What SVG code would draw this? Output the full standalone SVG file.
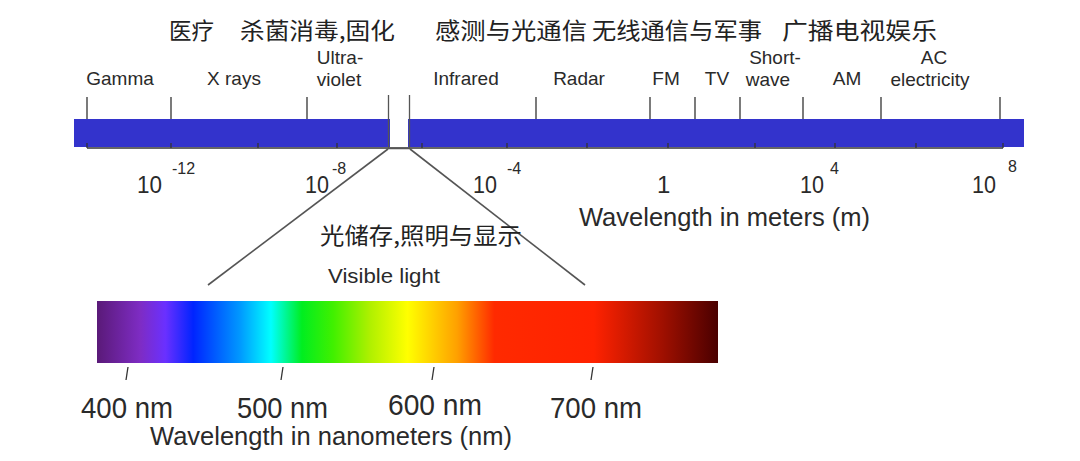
<svg xmlns="http://www.w3.org/2000/svg" width="1080" height="461" viewBox="0 0 1080 461">
<defs>
<linearGradient id="spec" x1="0" y1="0" x2="1" y2="0">
<stop offset="0" stop-color="#5a1a78"/>
<stop offset="0.07" stop-color="#7e2cc4"/>
<stop offset="0.11" stop-color="#6a30ff"/>
<stop offset="0.155" stop-color="#0024ff"/>
<stop offset="0.23" stop-color="#0098ff"/>
<stop offset="0.28" stop-color="#00ffff"/>
<stop offset="0.33" stop-color="#00ee20"/>
<stop offset="0.38" stop-color="#40f000"/>
<stop offset="0.44" stop-color="#b0f000"/>
<stop offset="0.5" stop-color="#ffff00"/>
<stop offset="0.58" stop-color="#ffa000"/>
<stop offset="0.64" stop-color="#ff2a00"/>
<stop offset="0.8" stop-color="#ff2200"/>
<stop offset="0.91" stop-color="#a01000"/>
<stop offset="1" stop-color="#4a0000"/>
</linearGradient>
<style>
.t{font-family:"Liberation Sans",Arial,sans-serif;fill:#2a2a2a}
.lb{font-size:19px;text-anchor:middle}
.num{font-size:24px}
.sup{font-size:16px}
.nm{font-size:30px}
.cn{font-family:"Noto Sans CJK SC","Liberation Sans",sans-serif;fill:#222;font-size:23px}
.tick{stroke:#333;stroke-width:1.3}
.bar{fill:#3333cc}
.fan{stroke:#555;stroke-width:1.6;fill:none}
</style>
</defs>
<rect width="1080" height="461" fill="#fff"/>

<g id="chinese-uses">
<text class="cn" x="169" y="39" textLength="45" lengthAdjust="spacingAndGlyphs">医疗</text>
<text class="cn" x="240" y="39" textLength="155" lengthAdjust="spacingAndGlyphs">杀菌消毒,固化</text>
<text class="cn" x="435" y="39" textLength="152" lengthAdjust="spacingAndGlyphs">感测与光通信</text>
<text class="cn" x="592" y="39" textLength="170" lengthAdjust="spacingAndGlyphs">无线通信与军事</text>
<text class="cn" x="782" y="39" textLength="155" lengthAdjust="spacingAndGlyphs">广播电视娱乐</text>
</g>

<g id="band-labels">
<text class="t lb" x="120" y="85">Gamma</text>
<text class="t lb" x="234" y="85">X rays</text>
<text class="t lb" x="340" y="64">Ultra-</text>
<text class="t lb" x="339" y="86">violet</text>
<text class="t lb" x="466" y="85">Infrared</text>
<text class="t lb" x="579" y="85">Radar</text>
<text class="t lb" x="666" y="85">FM</text>
<text class="t lb" x="717" y="85">TV</text>
<text class="t lb" x="775" y="64">Short-</text>
<text class="t lb" x="768" y="86">wave</text>
<text class="t lb" x="847" y="85">AM</text>
<text class="t lb" x="934" y="64">AC</text>
<text class="t lb" x="930" y="86">electricity</text>
</g>

<g id="em-bar">
<rect class="bar" x="74" y="119" width="316" height="28"/>
<rect class="bar" x="408" y="119" width="616" height="28"/>
<line class="tick" x1="87" y1="148" x2="1003" y2="148"/>
<g class="tick">
<line x1="87" y1="97" x2="87" y2="119"/>
<line x1="171" y1="97" x2="171" y2="119"/>
<line x1="307" y1="97" x2="307" y2="119"/>
<line x1="536" y1="97" x2="536" y2="119"/>
<line x1="650" y1="97" x2="650" y2="119"/>
<line x1="695" y1="97" x2="695" y2="119"/>
<line x1="740" y1="97" x2="740" y2="119"/>
<line x1="803" y1="97" x2="803" y2="119"/>
<line x1="881" y1="97" x2="881" y2="119"/>
<line x1="1000" y1="97" x2="1000" y2="119"/>
<line x1="87" y1="143" x2="87" y2="148"/>
<line x1="171" y1="143" x2="171" y2="148"/>
<line x1="258" y1="143" x2="258" y2="148"/>
<line x1="337" y1="143" x2="337" y2="148"/>
<line x1="422" y1="143" x2="422" y2="148"/>
<line x1="507" y1="143" x2="507" y2="148"/>
<line x1="587" y1="143" x2="587" y2="148"/>
<line x1="668" y1="143" x2="668" y2="148"/>
<line x1="755" y1="143" x2="755" y2="148"/>
<line x1="835" y1="143" x2="835" y2="148"/>
<line x1="916" y1="143" x2="916" y2="148"/>
<line x1="1003" y1="143" x2="1003" y2="148"/>
</g>
<path d="M388.5 95 V148.5 H409.5 V95" fill="none" stroke="#555" stroke-width="1.3"/>
</g>

<g id="scale-numbers">
<text class="t num" x="137" y="193" textLength="25" lengthAdjust="spacingAndGlyphs">10</text>
<text class="t sup" x="172" y="174">-12</text>
<text class="t num" x="305" y="193" textLength="24" lengthAdjust="spacingAndGlyphs">10</text>
<text class="t sup" x="332" y="174">-8</text>
<text class="t num" x="473" y="193" textLength="24" lengthAdjust="spacingAndGlyphs">10</text>
<text class="t sup" x="507" y="174">-4</text>
<text class="t num" x="657" y="193">1</text>
<text class="t num" x="800" y="193" textLength="24" lengthAdjust="spacingAndGlyphs">10</text>
<text class="t sup" x="830" y="174">4</text>
<text class="t num" x="972" y="193" textLength="24" lengthAdjust="spacingAndGlyphs">10</text>
<text class="t sup" x="1008" y="172">8</text>
<text class="t" x="579" y="226" font-size="25" textLength="291" lengthAdjust="spacingAndGlyphs">Wavelength in meters (m)</text>
</g>

<g id="connectors">
<line class="fan" x1="388" y1="149" x2="208" y2="285"/>
<line class="fan" x1="410" y1="149" x2="585" y2="285"/>
</g>

<g id="visible-labels">
<text class="cn" x="320" y="244" textLength="202" lengthAdjust="spacingAndGlyphs">光储存,照明与显示</text>
<text class="t" x="328" y="283" font-size="21" textLength="112" lengthAdjust="spacingAndGlyphs">Visible light</text>
</g>

<g id="visible-spectrum">
<rect x="97" y="301" width="621" height="62" fill="url(#spec)"/>
<g class="tick">
<line x1="128" y1="367" x2="126" y2="380"/>
<line x1="283" y1="367" x2="281" y2="380"/>
<line x1="434" y1="367" x2="432" y2="380"/>
<line x1="593" y1="367" x2="591" y2="380"/>
</g>
<text class="t nm" x="81" y="418" textLength="92" lengthAdjust="spacingAndGlyphs">400 nm</text>
<text class="t nm" x="237" y="418" textLength="91" lengthAdjust="spacingAndGlyphs">500 nm</text>
<text class="t nm" x="388" y="415" textLength="94" lengthAdjust="spacingAndGlyphs">600 nm</text>
<text class="t nm" x="550" y="418" textLength="92" lengthAdjust="spacingAndGlyphs">700 nm</text>
<text class="t" x="150" y="445" font-size="25" textLength="362" lengthAdjust="spacingAndGlyphs">Wavelength in nanometers (nm)</text>
</g>
</svg>
